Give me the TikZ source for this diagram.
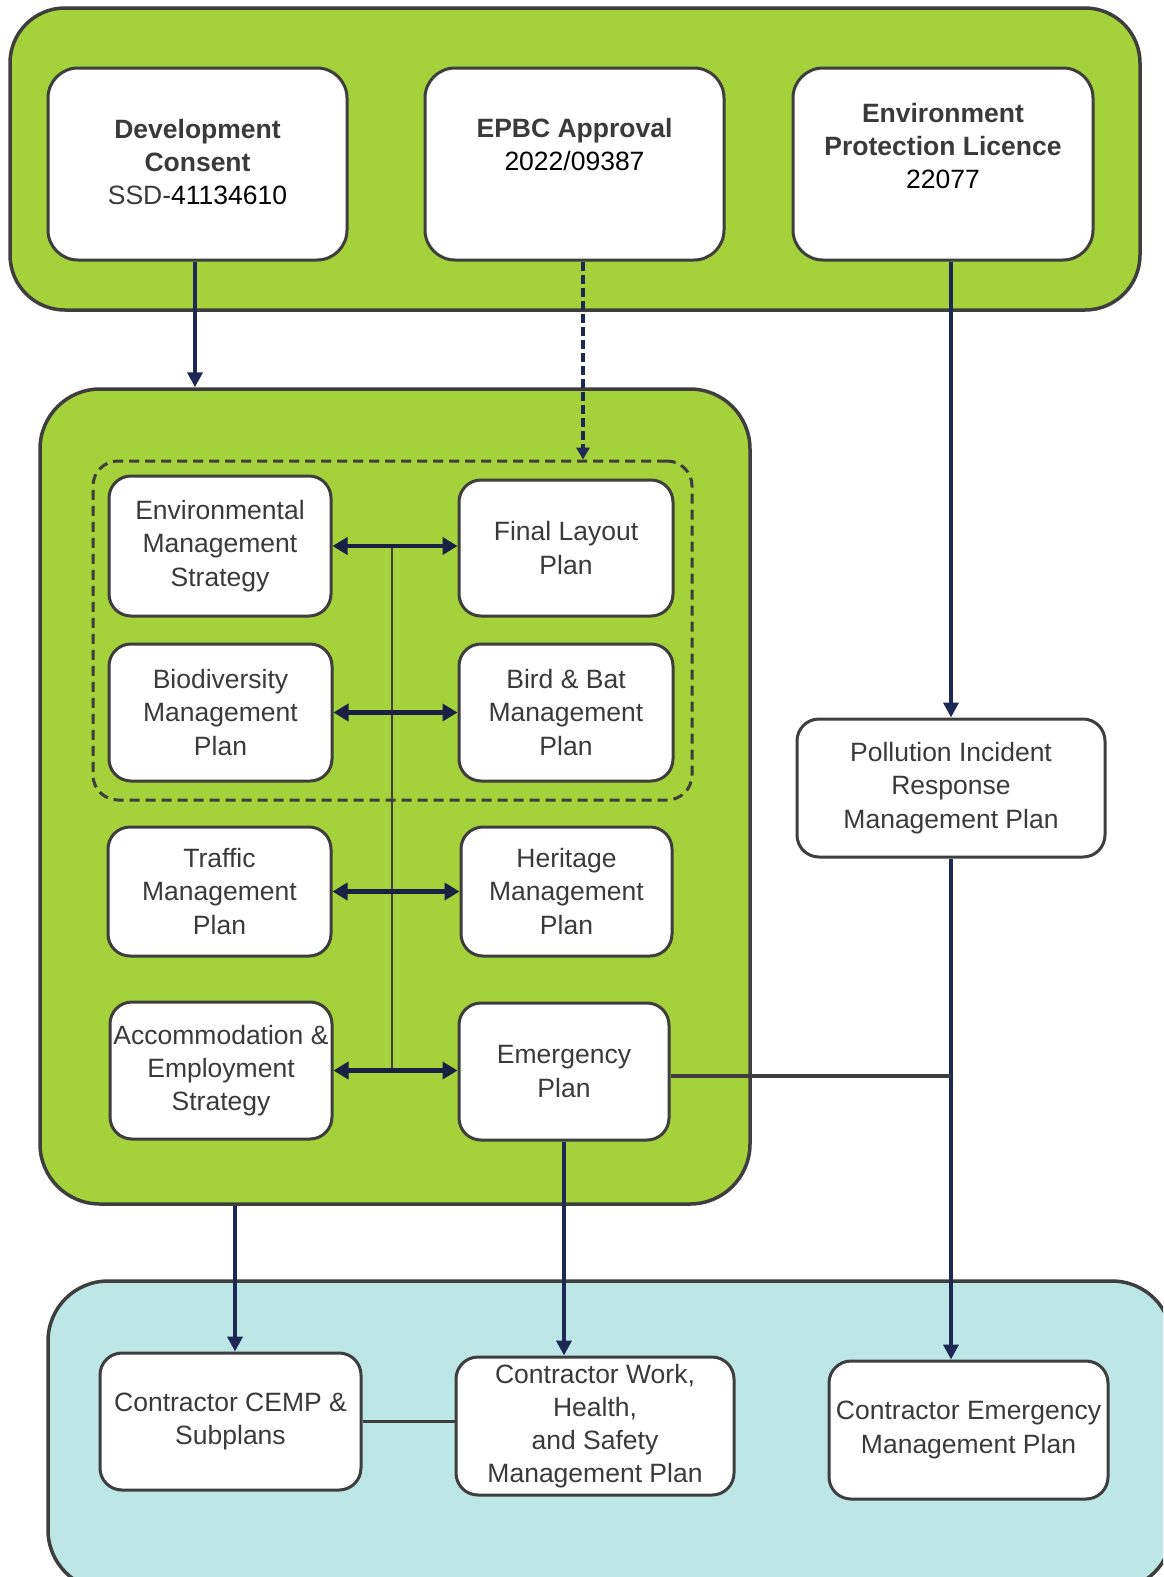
\documentclass[tikz,border=0pt]{standalone}
\usepackage{fontspec}
\setmainfont{Liberation Sans}
\usetikzlibrary{arrows.meta}
\definecolor{grn}{RGB}{165,209,58}
\definecolor{cyn}{RGB}{189,230,230}
\definecolor{bord}{RGB}{62,62,62}
\definecolor{navy}{RGB}{30,40,85}
\definecolor{txt}{RGB}{58,58,58}
\begin{document}
\begin{tikzpicture}[x=1pt,y=-1pt,
  font=\fontsize{26.5}{33.2}\selectfont,
  container/.style={draw=bord, line width=3.5pt, rounded corners=55pt, inner sep=0pt},
  topbox/.style={draw=bord, line width=3pt, fill=white, rounded corners=30pt, inner sep=0pt},
  planbox/.style={draw=bord, line width=3pt, fill=white, rounded corners=22pt, inner sep=0pt, align=center, text=txt},
  txtnode/.style={inner sep=0pt, align=center, text=txt},
  link/.style={draw=navy, line width=3.8pt, -{Triangle[width=15pt,length=15pt]}},
  dlink/.style={draw=navy, line width=4.5pt, dash pattern=on 9pt off 4pt, -{Triangle[width=13pt,length=12pt]}},
  twoway/.style={draw=navy!80!black, line width=4.2pt, {Triangle[width=17pt,length=15pt]}-{Triangle[width=17pt,length=15pt]}},
  plain/.style={draw=bord, line width=2.5pt},
  plainthick/.style={draw=bord, line width=3.5pt}
]
\useasboundingbox (0,0) rectangle (1163,1577);
\clip (0,0) rectangle (1163,1577);
\fill[white] (0,0) rectangle (1163,1577);

% containers
\node[container, fill=grn, minimum width=1130pt, minimum height=302pt] (topc) at (575,159) {};
\node[container, fill=grn, minimum width=710pt, minimum height=815pt, rounded corners=60pt] (midc) at (395,796.5) {};
\node[container, fill=cyn, minimum width=1124pt, minimum height=309pt, rounded corners=60pt] (botc) at (610,1435.5) {};
\node[draw=bord, line width=3pt, dash pattern=on 10pt off 6pt, rounded corners=25pt, minimum width=599pt, minimum height=339pt] (dashc) at (392.5,630.5) {};

% top boxes
\node[topbox, minimum width=299pt, minimum height=192pt] (dev) at (197.5,164) {};
\node[txtnode] (devt) at (197.5,162) {\textbf{Development}\\\textbf{Consent}\\SSD-\textcolor{black}{41134610}};
\node[topbox, minimum width=299pt, minimum height=192pt] (epbc) at (574.5,164) {};
\node[txtnode] (epbct) at (574.5,144.5) {\textbf{EPBC Approval}\\\textcolor{black}{2022/09387}};
\node[topbox, minimum width=300pt, minimum height=192pt] (epl) at (943,164) {};
\node[txtnode] (eplt) at (943,146) {\textbf{Environment}\\\textbf{Protection Licence}\\\textcolor{black}{22077}};

% plan boxes
\node[planbox, minimum width=222pt, minimum height=140pt] (ems) at (220,546) {Environmental\\Management\\Strategy};
\node[planbox, minimum width=214pt, minimum height=136pt] (flp) at (566,548) {Final Layout\\Plan};
\node[planbox, minimum width=223pt, minimum height=137pt] (bio) at (220.5,712.5) {Biodiversity\\Management\\Plan};
\node[planbox, minimum width=214pt, minimum height=137pt] (bbm) at (566,712.5) {Bird \& Bat\\Management\\Plan};
\node[planbox, minimum width=223pt, minimum height=129pt] (tmp) at (219.5,891.5) {Traffic\\Management\\Plan};
\node[planbox, minimum width=211pt, minimum height=129pt] (hmp) at (566.5,891.5) {Heritage\\Management\\Plan};
\node[planbox, minimum width=222pt, minimum height=137pt] (aes) at (221,1070.5) {Accommodation \&\\Employment\\Strategy};
\node[planbox, minimum width=210pt, minimum height=137pt] (emp) at (564,1071.5) {Emergency\\Plan};
\node[planbox, minimum width=308pt, minimum height=138pt] (pirmp) at (951,788) {Pollution Incident\\Response\\Management Plan};
\node[planbox, minimum width=261pt, minimum height=137pt] (cemp) at (230.5,1421.5) {Contractor CEMP \&\\Subplans};
\node[planbox, minimum width=278pt, minimum height=138pt] (whs) at (595,1426) {Contractor Work,\\Health,\\and Safety\\Management Plan};
\node[planbox, minimum width=279pt, minimum height=138pt] (cem) at (968.5,1430) {Contractor Emergency\\Management Plan};

% helper x positions
\coordinate (xdev) at (195,0);
\coordinate (xepbc) at (583,0);
\coordinate (xmid) at (235,0);
\coordinate (xv) at (392,0);
\coordinate (yemp) at (0,1076);

% connectors
\draw[link] (dev.south -| xdev) -- (midc.north -| xdev);
\draw[dlink] (epbc.south -| xepbc) -- (dashc.north -| xepbc);
\draw[link] (pirmp.north |- epl.south) -- (pirmp.north);
\draw[link] (pirmp.south) -- (pirmp.south |- cem.north);
\draw[plainthick] (emp.east |- yemp) -- (pirmp.south |- yemp);
\draw[link] (midc.south -| xmid) -- (cemp.north -| xmid);
\draw[link] (emp.south) -- (emp.south |- whs.north);
\draw[plainthick] (cemp.east) -- (cemp.east -| whs.west);

\draw[plain] (xv |- ems.east) -- (xv |- aes.east);
\draw[twoway] (ems.east) -- (ems.east -| flp.west);
\draw[twoway] (bio.east) -- (bio.east -| bbm.west);
\draw[twoway] (tmp.east) -- (tmp.east -| hmp.west);
\draw[twoway] (aes.east) -- (aes.east -| emp.west);
\end{tikzpicture}
\end{document}
